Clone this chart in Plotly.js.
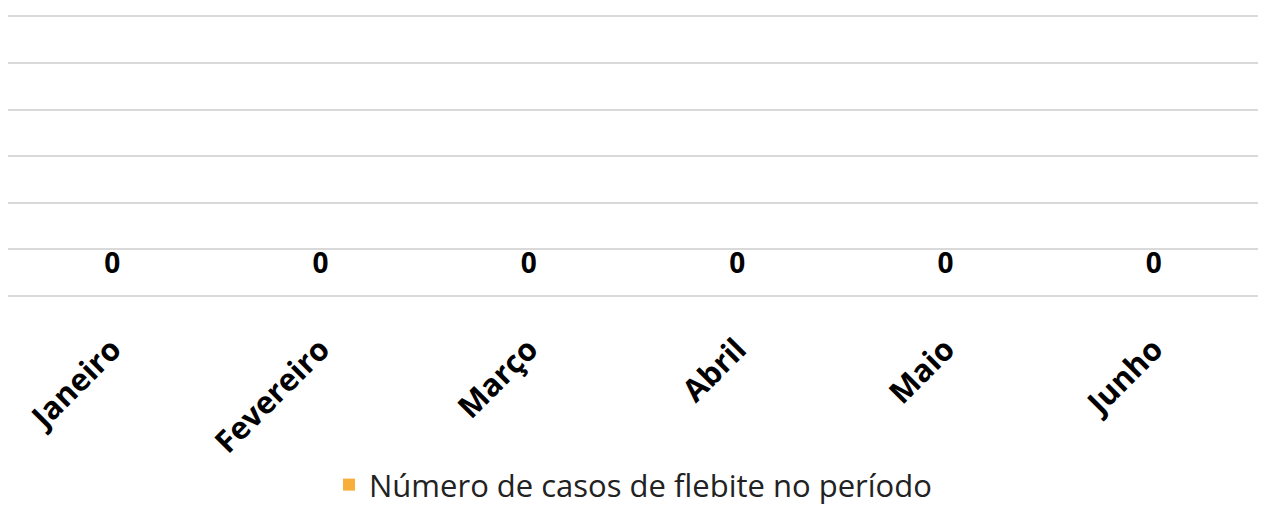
<!DOCTYPE html>
<html>
<head>
<meta charset="utf-8">
<script src="https://cdn.plot.ly/plotly-3.0.1.min.js"></script>
<style>html,body{margin:0;padding:0;background:#fff;}#chart{width:1261px;height:507px;}</style>
</head>
<body>
<div id="chart"></div>
<script>
const months = ["Janeiro", "Fevereiro", "Março", "Abril", "Maio", "Junho"];
const casos = [0, 0, 0, 0, 0, 0];
const seriesName = "Número de casos de flebite no período";

const traces = [
  {
    type: "bar",
    x: months,
    y: casos,
    name: seriesName,
    marker: {color: "#F9AE3A"},
    hoverinfo: "skip"
  },
  {
    type: "scatter",
    mode: "markers+text",
    x: months,
    y: casos,
    text: casos.map(String),
    textposition: "top center",
    textfont: {family: "Open Sans", size: 28, color: "#000", weight: "bold"},
    marker: {size: 24, opacity: 0},
    showlegend: false,
    hoverinfo: "skip",
    cliponaxis: false
  }
];

const layout = {
  width: 1261,
  height: 507,
  margin: {l: 8, r: 3, t: 14, b: 211, autoexpand: false},
  paper_bgcolor: "#fff",
  plot_bgcolor: "#fff",
  showlegend: true,
  legend: {
    orientation: "h",
    x: 0.5, xanchor: "center",
    y: -0.67, yanchor: "middle",
    font: {family: "Open Sans", size: 31, color: "#222"},
    itemwidth: 30,
    borderwidth: 0
  },
  xaxis: {
    type: "category",
    tickangle: -45,
    tickfont: {family: "Open Sans", size: 31, color: "#000", weight: "bold"},
    ticklabelstandoff: 28,
    showgrid: false,
    showline: false,
    ticks: "",
    zeroline: false,
    automargin: false
  },
  yaxis: {
    range: [0, 6.05],
    dtick: 1,
    showticklabels: false,
    ticks: "",
    showgrid: true,
    gridcolor: "#D9D9D9",
    gridwidth: 2,
    zeroline: true,
    zerolinecolor: "#D9D9D9",
    zerolinewidth: 2,
    fixedrange: true,
    automargin: false
  },
  font: {family: "Open Sans"}
};

Plotly.newPlot("chart", traces, layout, {displayModeBar: false, staticPlot: true});
</script>
</body>
</html>
